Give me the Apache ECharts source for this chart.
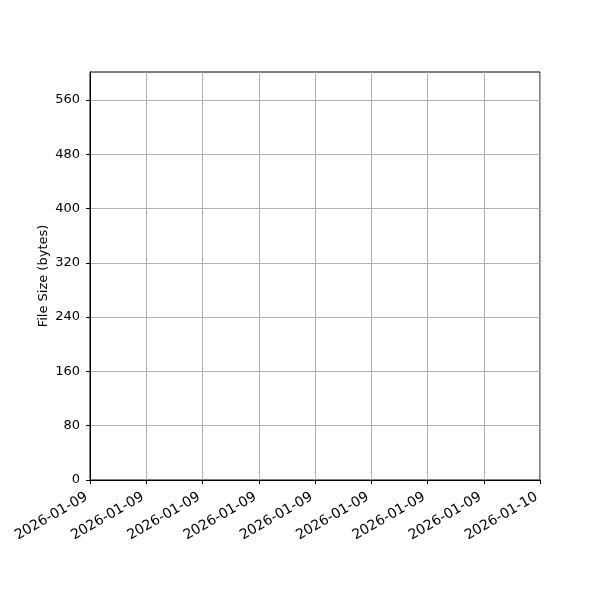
<!DOCTYPE html>
<html>
<head>
<meta charset="utf-8">
<script src="https://cdn.jsdelivr.net/npm/echarts@6/dist/echarts.min.js"></script>
<style>
html,body{margin:0;padding:0;background:#fff;}
#chart{width:600px;height:600px;}
</style>
</head>
<body>
<div id="chart"></div>
<script>
// Data (the reference chart contains no data points)
const timestamps = [];
const fileSizes = [];
const xTickLabels = ['2026-01-09','2026-01-09','2026-01-09','2026-01-09','2026-01-09','2026-01-09','2026-01-09','2026-01-09','2026-01-10'];
const yTicks = [0, 80, 160, 240, 320, 400, 480, 560];
const yMax = 601;
const yLabel = 'File Size (bytes)';

const font = 'DejaVu Sans';
const chart = echarts.init(document.getElementById('chart'), null, {renderer: 'canvas'});
chart.setOption({
  animation: false,
  backgroundColor: '#ffffff',
  grid: {left: 90, right: 60, top: 72, bottom: 120, show: true, borderColor: '#000', borderWidth: 1, backgroundColor: 'transparent'},
  xAxis: {
    type: 'value',
    min: 0,
    max: xTickLabels.length - 1,
    interval: 1,
    axisLine: {show: true, lineStyle: {color: '#000', width: 1}},
    axisTick: {show: true, length: 4, lineStyle: {color: '#000', width: 1}},
    splitLine: {show: true, lineStyle: {color: '#b0b0b0', width: 1}},
    axisLabel: {
      rotate: 30,
      margin: 14,
      padding: [0, 4, 0, 0],
      color: '#000',
      fontFamily: font,
      fontSize: 14,
      showMinLabel: true,
      showMaxLabel: true,
      hideOverlap: false,
      formatter: v => xTickLabels[Math.round(v)]
    }
  },
  yAxis: {
    type: 'value',
    min: 0,
    max: yMax,
    interval: 80,
    name: yLabel,
    nameLocation: 'middle',
    nameGap: 40,
    nameMoveOverlap: false,
    nameRotate: 90,
    nameTextStyle: {color: '#000', fontFamily: font, fontSize: 13},
    axisLine: {show: true, lineStyle: {color: '#000', width: 1}},
    axisTick: {show: true, length: 4, customValues: yTicks, lineStyle: {color: '#000', width: 1}},
    splitLine: {show: true, lineStyle: {color: '#b0b0b0', width: 1}},
    axisLabel: {
      margin: 10,
      color: '#000',
      fontFamily: font,
      fontSize: 13,
      customValues: yTicks
    }
  },
  series: [{
    type: 'line',
    data: timestamps.map((t, i) => [t, fileSizes[i]]),
    showSymbol: false
  }]
});
</script>
</body>
</html>
